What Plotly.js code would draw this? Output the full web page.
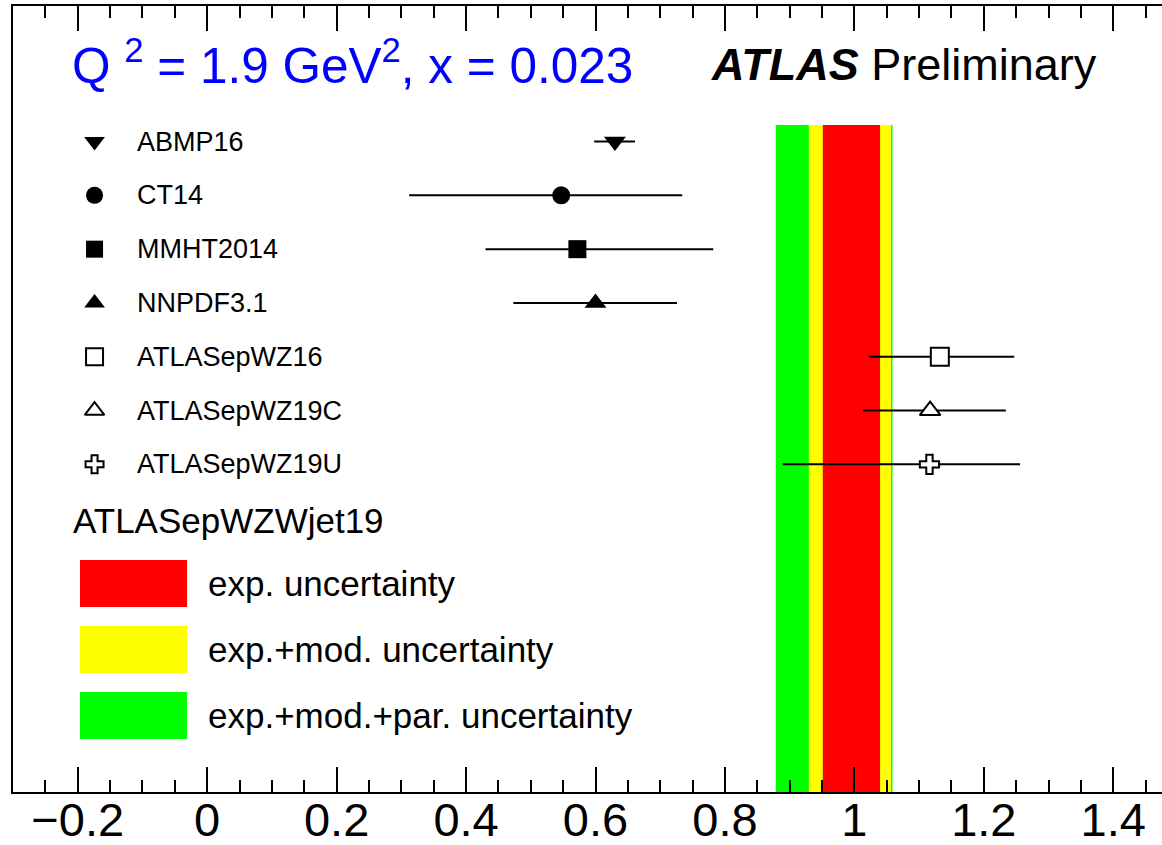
<!DOCTYPE html>
<html>
<head>
<meta charset="utf-8">
<script src="https://cdn.plot.ly/plotly-3.0.1.min.js"></script>
<style>
html, body { margin: 0; padding: 0; overflow: hidden; background: #fff; }
#chart { width: 1180px; height: 845px; }
</style>
</head>
<body>
<div id="chart"></div>
<script>
// ---- data ----
const pdfNames = ['ABMP16', 'CT14', 'MMHT2014', 'NNPDF3.1', 'ATLASepWZ16', 'ATLASepWZ19C', 'ATLASepWZ19U'];
const centralValues = [0.630, 0.547, 0.572, 0.600, 1.132, 1.117, 1.116];
const errorMinus = [0.032, 0.235, 0.142, 0.127, 0.109, 0.104, 0.227];
const errorPlus = [0.031, 0.187, 0.210, 0.126, 0.115, 0.117, 0.140];
const markerSymbols = ['triangle-down', 'circle', 'square', 'triangle-up', 'square', 'triangle-up', 'cross'];
const markerFilled = [true, true, true, true, false, false, false];

const bandLabels = ['exp. uncertainty', 'exp.+mod. uncertainty', 'exp.+mod.+par. uncertainty'];
const bandLow = [0.9512, 0.9296, 0.8785];
const bandHigh = [1.0397, 1.0567, 1.0589];
const bandColors = ['#ff0000', '#ffff00', '#00ff00'];

const xTickValues = [-0.2, 0, 0.2, 0.4, 0.6, 0.8, 1, 1.2, 1.4];

// ---- layout helpers ----
const rowY = pdfNames.map((_, i) => pdfNames.length - i);
const yRange = [-5.09, 9.52];
const bandTop = 7.31;
const legendMarkerX = -0.174;
const legendLabelX = -0.111;
const font = 'Liberation Sans, Arial, Helvetica, sans-serif';

const markerSize = markerSymbols.map((s, i) => {
  if (markerFilled[i]) return s.startsWith('triangle') ? 19 : 18;
  if (s === 'square') return 18;
  if (s === 'triangle-up') return 18;
  return 16;
});
const markerColor = markerFilled.map(f => f ? 'black' : 'white');
const markerLineW = markerFilled.map(f => f ? 0 : 2);

const traces = [
  {
    type: 'scatter', mode: 'markers',
    x: centralValues, y: rowY,
    error_x: { type: 'data', symmetric: false, array: errorPlus, arrayminus: errorMinus,
               width: 0, thickness: 2, color: 'black' },
    marker: { symbol: markerSymbols, size: markerSize, color: markerColor, opacity: 1,
              line: { color: 'black', width: markerLineW } },
    hoverinfo: 'x+text', text: pdfNames, showlegend: false
  },
  {
    type: 'scatter', mode: 'markers',
    x: rowY.map(() => legendMarkerX), y: rowY,
    marker: { symbol: markerSymbols, size: markerSize.map(s => s - 1), color: markerColor, opacity: 1,
              line: { color: 'black', width: markerLineW } },
    hoverinfo: 'skip', showlegend: false
  }
];

const shapes = [];
// bands, widest first so narrower ones are on top
for (let i = bandLow.length - 1; i >= 0; i--) {
  shapes.push({ type: 'rect', xref: 'x', yref: 'y', x0: bandLow[i], x1: bandHigh[i],
    y0: yRange[0], y1: bandTop, fillcolor: bandColors[i], line: { width: 0 }, layer: 'below' });
}
// band legend boxes
const boxTops = [0.2952, 0.2112, 0.1272];
const boxH = 0.0598;
const annotations = [];
bandLabels.forEach((lab, i) => {
  shapes.push({ type: 'rect', xref: 'paper', yref: 'paper', x0: 0.0575, x1: 0.1494,
    y0: boxTops[i] - boxH, y1: boxTops[i], fillcolor: bandColors[i], line: { width: 0 } });
  annotations.push({ xref: 'paper', yref: 'paper', x: 0.1655, y: boxTops[i] - boxH / 2,
    xanchor: 'left', yanchor: 'middle', showarrow: false, text: lab,
    font: { family: font, size: 35, color: 'black' } });
});

pdfNames.forEach((n, i) => {
  annotations.push({ xref: 'x', yref: 'y', x: legendLabelX, y: rowY[i], xanchor: 'left', yanchor: 'middle',
    showarrow: false, text: n, font: { family: font, size: 27, color: 'black' } });
});

annotations.push({ xref: 'paper', yref: 'paper', x: 0.0496, y: 0.3448, xanchor: 'left', yanchor: 'middle',
  showarrow: false, text: 'ATLASepWZWjet19', font: { family: font, size: 35, color: 'black' } });
annotations.push({ xref: 'paper', yref: 'paper', x: 0.0486, y: 0.929, xanchor: 'left', yanchor: 'middle',
  showarrow: false, text: 'Q <sup>2</sup> = 1.9 GeV<sup>2</sup>, x = 0.023',
  font: { family: font, size: 49.5, color: '#0000ff' } });
annotations.push({ xref: 'paper', yref: 'paper', x: 0.5975, y: 0.925, xanchor: 'left', yanchor: 'middle',
  showarrow: false, text: '<b><i>ATLAS</i></b> Preliminary',
  font: { family: font, size: 45, color: 'black' } });

const layout = {
  width: 1180, height: 845,
  margin: { l: 13, r: 2, t: 6, b: 53 },
  paper_bgcolor: 'white', plot_bgcolor: 'white',
  showlegend: false,
  xaxis: {
    range: [-0.3, 1.5], tickvals: xTickValues, ticktext: xTickValues.map(v => v < 0 ? '\u2212' + Math.abs(v) : String(v)),
    ticks: 'inside', ticklen: 25, tickwidth: 2, tickcolor: 'black',
    minor: { dtick: 0.05, tick0: 0, ticks: 'inside', ticklen: 12, tickwidth: 2, tickcolor: 'black', showgrid: false },
    showline: true, linewidth: 2, linecolor: 'black', mirror: 'ticks',
    showgrid: false, zeroline: false,
    ticklabelstandoff: -14,
    tickfont: { family: font, size: 47, color: 'black' }
  },
  yaxis: {
    range: yRange, showticklabels: false, ticks: '', showgrid: false, zeroline: false,
    showline: true, linewidth: 2, linecolor: 'black', mirror: true
  },
  shapes: shapes,
  annotations: annotations
};

Plotly.newPlot('chart', traces, layout, { displayModeBar: false, staticPlot: true });
</script>
</body>
</html>
